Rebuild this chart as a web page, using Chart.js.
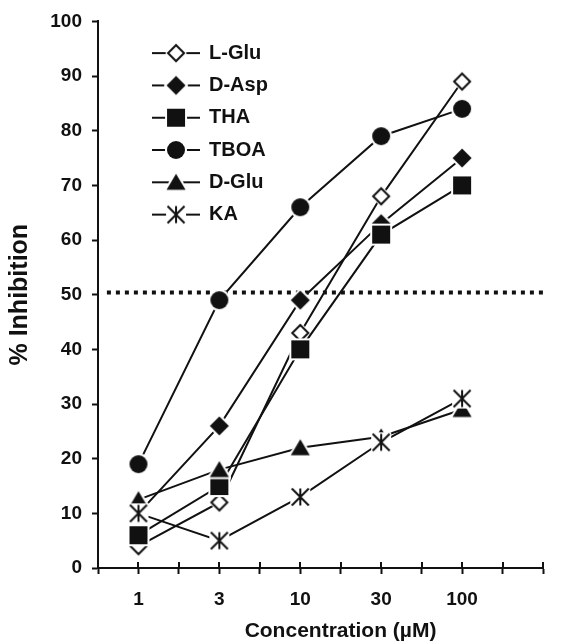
<!DOCTYPE html>
<html>
<head>
<meta charset="utf-8">
<script src="https://cdn.jsdelivr.net/npm/chart.js@4"></script>
<style>html,body{margin:0;padding:0;background:#fff;}</style>
</head>
<body>
<canvas id="c" width="581" height="642"></canvas>
<script>
// ---- data ----
const concentrations = [1, 3, 10, 30, 100];           // µM
const xTickLabels = ['1', '3', '10', '30', '100'];
const seriesNames = ['L-Glu', 'D-Asp', 'THA', 'TBOA', 'D-Glu', 'KA'];
const lGlu = [4, 12, 43, 68, 89];
const dAsp = [10, 26, 49, 63, 75];
const tha  = [6, 15, 40, 61, 70];
const tboa = [19, 49, 66, 79, 84];
const dGlu = [12.5, 18, 22, 24, 29];
const ka   = [10, 5, 13, 23, 31];
const thresholdLevel = 50.4;
const yAxisTitle = '% Inhibition';
const xAxisTitle = 'Concentration (\u00B5M)';

// ---- styling ----
const INK = '#111';
const FONT = '"Liberation Sans", Arial, Helvetica, sans-serif';
const seriesValues = [lGlu, dAsp, tha, tboa, dGlu, ka];
const markerKinds = ['diamondOpen', 'diamond', 'square', 'circle', 'triangle', 'star'];

function markerCanvas(kind, legend) {
  const W = legend ? 48 : 24, H = 24;
  const cv = document.createElement('canvas');
  cv.width = W; cv.height = H;
  const g = cv.getContext('2d');
  const cx = W / 2, cy = H / 2;
  if (legend) {
    g.strokeStyle = INK; g.lineWidth = 2;
    g.beginPath(); g.moveTo(0, cy); g.lineTo(W, cy); g.stroke();
  }
  if (kind === 'star') {
    g.fillStyle = '#fff';
    g.fillRect(cx - 10, cy - 10, 20, 20);
    g.strokeStyle = INK; g.lineWidth = 2;
    g.beginPath();
    g.moveTo(cx, cy - 8.5); g.lineTo(cx, cy + 8.5);
    g.moveTo(cx - 8.5, cy - 8.5); g.lineTo(cx + 8.5, cy + 8.5);
    g.moveTo(cx + 8.5, cy - 8.5); g.lineTo(cx - 8.5, cy + 8.5);
    g.stroke();
    return cv;
  }
  const shape = () => {
    g.beginPath();
    if (kind === 'diamondOpen') {
      const r = 8;
      g.moveTo(cx, cy - r); g.lineTo(cx + r, cy); g.lineTo(cx, cy + r); g.lineTo(cx - r, cy); g.closePath();
    } else if (kind === 'diamond') {
      const r = 9.5;
      g.moveTo(cx, cy - r); g.lineTo(cx + r, cy); g.lineTo(cx, cy + r); g.lineTo(cx - r, cy); g.closePath();
    } else if (kind === 'square') {
      g.rect(cx - 9, cy - 9, 18, 18);
    } else if (kind === 'circle') {
      g.arc(cx, cy, 9, 0, Math.PI * 2);
    } else if (kind === 'triangle') {
      g.moveTo(cx, cy - 8.5); g.lineTo(cx + 9.5, cy + 7.5); g.lineTo(cx - 9.5, cy + 7.5); g.closePath();
    }
  };
  shape(); g.strokeStyle = '#fff'; g.lineWidth = 4; g.stroke();
  shape();
  if (kind === 'diamondOpen') {
    g.fillStyle = '#fff'; g.fill();
    g.strokeStyle = INK; g.lineWidth = 2; g.stroke();
  } else {
    g.fillStyle = INK; g.fill();
  }
  return cv;
}

const pointImgs = markerKinds.map(k => markerCanvas(k, false));
const legendImgs = markerKinds.map(k => markerCanvas(k, true));

// concentrations are placed on evenly spaced positions 1,3,5,7,9 of the axis
const xPos = concentrations.map((c, i) => 2 * i + 1);

const datasets = seriesNames.map((name, s) => ({
  label: name,
  data: seriesValues[s].map((v, i) => ({ x: xPos[i], y: v })),
  borderColor: INK,
  backgroundColor: INK,
  borderWidth: 2,
  pointStyle: pointImgs[s],
  pointRadius: 10,
  pointHoverRadius: 10,
  order: seriesNames.length - s,
  clip: false
}));
datasets.push({
  label: '50%',
  data: [{ x: 0.22, y: thresholdLevel }, { x: 11.1, y: thresholdLevel }],
  borderColor: INK,
  borderWidth: 4,
  borderDash: [4, 5],
  borderCapStyle: 'butt',
  pointRadius: 0,
  order: 20,
  clip: false
});

const legendPlacer = {
  id: 'legendPlacer',
  beforeDraw(chart) {
    const lg = chart.legend, a = chart.chartArea;
    lg.left = a.left + 42.7;
    lg.top = a.top + 9.4;
    lg.right = lg.left + 200;
    lg.bottom = lg.top + 230;
  }
};

const xTickUp = {
  id: 'xTickUp',
  beforeDatasetsDraw(chart) {
    const s = chart.scales.x, ctx = chart.ctx;
    ctx.save();
    ctx.strokeStyle = INK; ctx.lineWidth = 2;
    ctx.beginPath();
    s.ticks.forEach(t => {
      const px = Math.round(s.getPixelForValue(t.value));
      ctx.moveTo(px, s.top); ctx.lineTo(px, s.top - 6);
    });
    ctx.stroke();
    ctx.restore();
  }
};

const xTitleShift = {
  id: 'xTitleShift',
  afterLayout(chart) {
    const s = chart.scales.x;
    if (!s._titleShifted) {
      const orig = s.drawTitle.bind(s);
      s.drawTitle = function () {
        const c = this.ctx; c.save(); c.translate(20, 0); orig(); c.restore();
      };
      s._titleShifted = true;
    }
  }
};

const tickFont = { family: FONT, size: 19, weight: 'bold' };

new Chart(document.getElementById('c'), {
  type: 'line',
  data: { datasets },
  options: {
    responsive: false,
    animation: false,
    devicePixelRatio: 1,
    events: [],
    layout: { padding: { left: 8, top: 20, right: 38, bottom: 0 } },
    plugins: {
      tooltip: { enabled: false },
      legend: {
        display: true,
        position: 'chartArea',
        align: 'start',
        labels: {
          usePointStyle: true,
          pointStyleWidth: 46,
          padding: 12.3,
          color: INK,
          font: { family: FONT, size: 20, weight: 'bold' },
          generateLabels: () => seriesNames.map((name, i) => ({
            text: name,
            pointStyle: legendImgs[i],
            fillStyle: INK,
            strokeStyle: INK,
            fontColor: INK,
            lineWidth: 0,
            hidden: false,
            datasetIndex: i
          }))
        }
      }
    },
    scales: {
      x: {
        type: 'linear',
        min: 0,
        max: 11,
        ticks: {
          stepSize: 1,
          autoSkip: false,
          maxRotation: 0,
          color: INK,
          font: tickFont,
          padding: 14.6,
          callback: (v) => {
            const i = xPos.indexOf(v);
            return i >= 0 ? xTickLabels[i] : '';
          }
        },
        grid: { drawOnChartArea: false, drawTicks: true, tickLength: 6, tickWidth: 2, tickColor: INK },
        border: { color: INK, width: 2 },
        title: {
          display: true, text: xAxisTitle, color: INK,
          font: { family: FONT, size: 21, weight: 'bold', lineHeight: 1 },
          padding: { top: -5.5, bottom: 0.5 }
        }
      },
      y: {
        min: 0,
        max: 100,
        ticks: { stepSize: 10, color: INK, font: tickFont, padding: 10 },
        grid: { drawOnChartArea: false, drawTicks: true, tickLength: 6, tickWidth: 2, tickColor: INK },
        border: { color: INK, width: 2 },
        title: {
          display: true, text: yAxisTitle, color: INK,
          font: { family: FONT, size: 25, weight: 'bold', lineHeight: 1 },
          padding: { top: 0, bottom: 7.3 }
        }
      }
    }
  },
  plugins: [legendPlacer, xTickUp, xTitleShift]
});
</script>
</body>
</html>
